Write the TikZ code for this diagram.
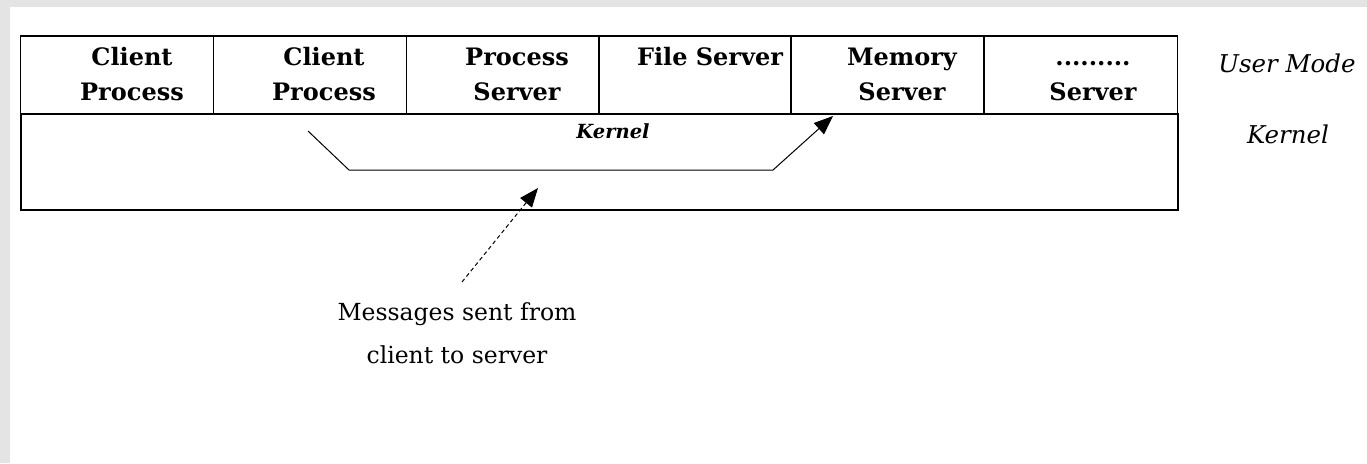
\documentclass[tikz,border=0pt]{standalone}
\usepackage{fontspec}
\setmainfont{DejaVu Serif}
\usetikzlibrary{arrows.meta}
\definecolor{framegray}{RGB}{228,228,228}
\tikzset{
  cell/.style={draw=black, line width=1.8pt, minimum width=193pt, minimum height=78pt, inner sep=0pt},
  celltext/.style={anchor=base, align=center, inner sep=0pt,
    font=\fontsize{24}{35}\selectfont\bfseries},
  sidetext/.style={anchor=base, inner sep=0pt, font=\fontsize{24.5}{27}\selectfont\itshape},
  msgpath/.style={line width=1pt, -{Triangle[length=19pt,width=15pt]}},
  msgnote/.style={line width=1pt, dash pattern=on 4pt off 3pt, -{Triangle[length=19pt,width=15pt]}},
}
\begin{document}
\begin{tikzpicture}[x=1pt,y=-1pt]
  % page background with grey frame on top and left
  \fill[framegray] (0,0) rectangle (1367,463);
  \fill[white] (10,7) rectangle (1367,463);
  \useasboundingbox (0,0) rectangle (1367,463);

  % kernel band
  \node[draw=black, line width=1.8pt, minimum width=1157pt, minimum height=96pt, inner sep=0pt]
    (kern) at (599.5,162) {};

  % user-mode cells
  \node[cell] (c1) at (117,75) {};
  \node[cell] (c2) at (310,75) {};
  \node[cell] (c3) at (503,75) {};
  \node[cell] (c4) at (695,75) {};
  \node[cell] (c5) at (887.5,75) {};
  \node[cell] (c6) at (1081,75) {};

  % cell labels (base anchor sits on the last line)
  \node[celltext] (t1) at (132,100) {Client\\Process};
  \node[celltext] (t2) at (324,100) {Client\\Process};
  \node[celltext] (t3) at (517,100) {Process\\Server};
  \node[celltext] (t4) at (710,65) {File Server};
  \node[celltext] (t5) at (902,100) {Memory\\Server};
  \node[celltext] (t6) at (1093,100) {.........\\Server};

  \node[anchor=base, inner sep=0pt, font=\fontsize{19.5}{20}\selectfont\bfseries\itshape]
    (kl) at (613,138) {Kernel};

  \node[sidetext] (um) at (1287,72) {User Mode};
  \node[sidetext] (kr) at (1288,143) {Kernel};

  % message path through the kernel
  \coordinate (m0) at (308,131);
  \coordinate (m1) at (349,170);
  \coordinate (m2) at (773,170);
  \coordinate (m3) at (833,116);
  \draw[msgpath] (m0) -- (m1) -- (m2) -- (m3);

  % annotation
  \node[anchor=base, align=center, inner sep=0pt, font=\fontsize{23.5}{43}\selectfont]
    (note) at (457,363) {Messages sent from\\client to server};
  \coordinate (n0) at (462,282);
  \coordinate (n1) at (538,188);
  \draw[msgnote] (n0) -- (n1);
\end{tikzpicture}
\end{document}
